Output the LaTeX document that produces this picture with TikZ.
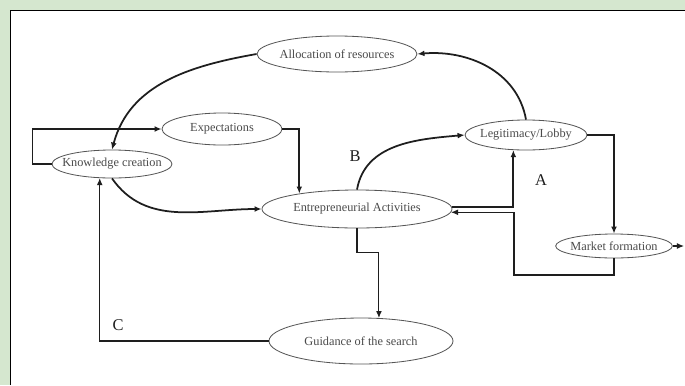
\documentclass[tikz,border=0pt]{standalone}
\usepackage{fontspec}
\setmainfont{Liberation Serif}
\usetikzlibrary{arrows.meta,positioning,calc,shapes.geometric}
\definecolor{Frame}{HTML}{D5E7CF}
\definecolor{Ink}{HTML}{1E1E1E}
\definecolor{Rim}{HTML}{555555}
\definecolor{Word}{HTML}{4A4A4A}
\tikzset{
 oval/.style={ellipse, draw=Rim, line width=0.7pt, fill=white, inner sep=0pt},
 ovaltext/.style={font=\fontsize{10.5}{12}\selectfont, text=Word},
 thickarrow/.style={-{Latex[length=6pt,width=5pt]}, line width=1.5pt, draw=Ink},
 thinarrow/.style={-{Latex[length=6pt,width=5pt]}, line width=0.9pt, draw=Ink},
 letter/.style={font=\fontsize{14}{16}\selectfont, text=Ink}
}
\begin{document}
\begin{tikzpicture}[x=0.03cm,y=-0.03cm]
\useasboundingbox (0,0) rectangle (685,385);
\fill[Frame] (0,0) rectangle (685,385);
\fill[white] (10,10) rectangle (685,385);
\draw[line width=1.6pt] (10.5,385) -- (10.5,10.5) -- (685,10.5);
\node[oval,minimum width=4.8cm,minimum height=1.08cm,label={[ovaltext]center:Allocation of resources}] (alloc) at (337,54) {};
\node[oval,minimum width=3.6cm,minimum height=0.96cm,label={[ovaltext]center:Expectations}] (expect) at (222,129) {};
\node[oval,minimum width=3.6cm,minimum height=0.84cm,label={[ovaltext]center:Knowledge creation}] (know) at (112,164) {};
\node[oval,minimum width=5.7cm,minimum height=1.14cm,label={[ovaltext]center:Entrepreneurial Activities}] (entre) at (357,209) {};
\node[oval,minimum width=3.66cm,minimum height=0.9cm,label={[ovaltext]center:Legitimacy/Lobby}] (legit) at (526,135) {};
\node[oval,minimum width=3.5cm,minimum height=0.72cm,label={[ovaltext]center:Market formation}] (market) at (614,246) {};
\node[oval,minimum width=5.52cm,minimum height=1.38cm,label={[ovaltext]center:Guidance of the search}] (guide) at (361,341) {};
\node[letter] (labA) at (541,180) {A};
\node[letter] (labB) at (355,156) {B};
\node[letter] (labC) at (118,325) {C};
\coordinate (turn) at (514,275);
\coordinate (out) at (684,246);
\draw[thickarrow] (legit.north) to[out=100,in=5] (alloc.east);
\draw[thickarrow] (alloc.west) to[out=190,in=75] (know.north);
\draw[thickarrow] (know.west) -- ++(-19,0) |- (expect.west);
\draw[thickarrow] (expect.east) -| (entre.165);
\draw[thickarrow] (know.south) to[out=-55,in=180] (entre.west);
\draw[thickarrow] (entre.north) to[out=80,in=185] (legit.west);
\draw[thickarrow] (entre.1) -| (legit.230);
\draw[thickarrow] (legit.east) -| (market.north);
\draw[thinarrow] (market.south) |- (turn) |- (entre.-2);
\draw[thinarrow] (market.east) -- (out);
\draw[thinarrow] (entre.south) -- ++(0,24) -| (guide.52);
\draw[thinarrow] (guide.west) -| (know.229);
\end{tikzpicture}
\end{document}
